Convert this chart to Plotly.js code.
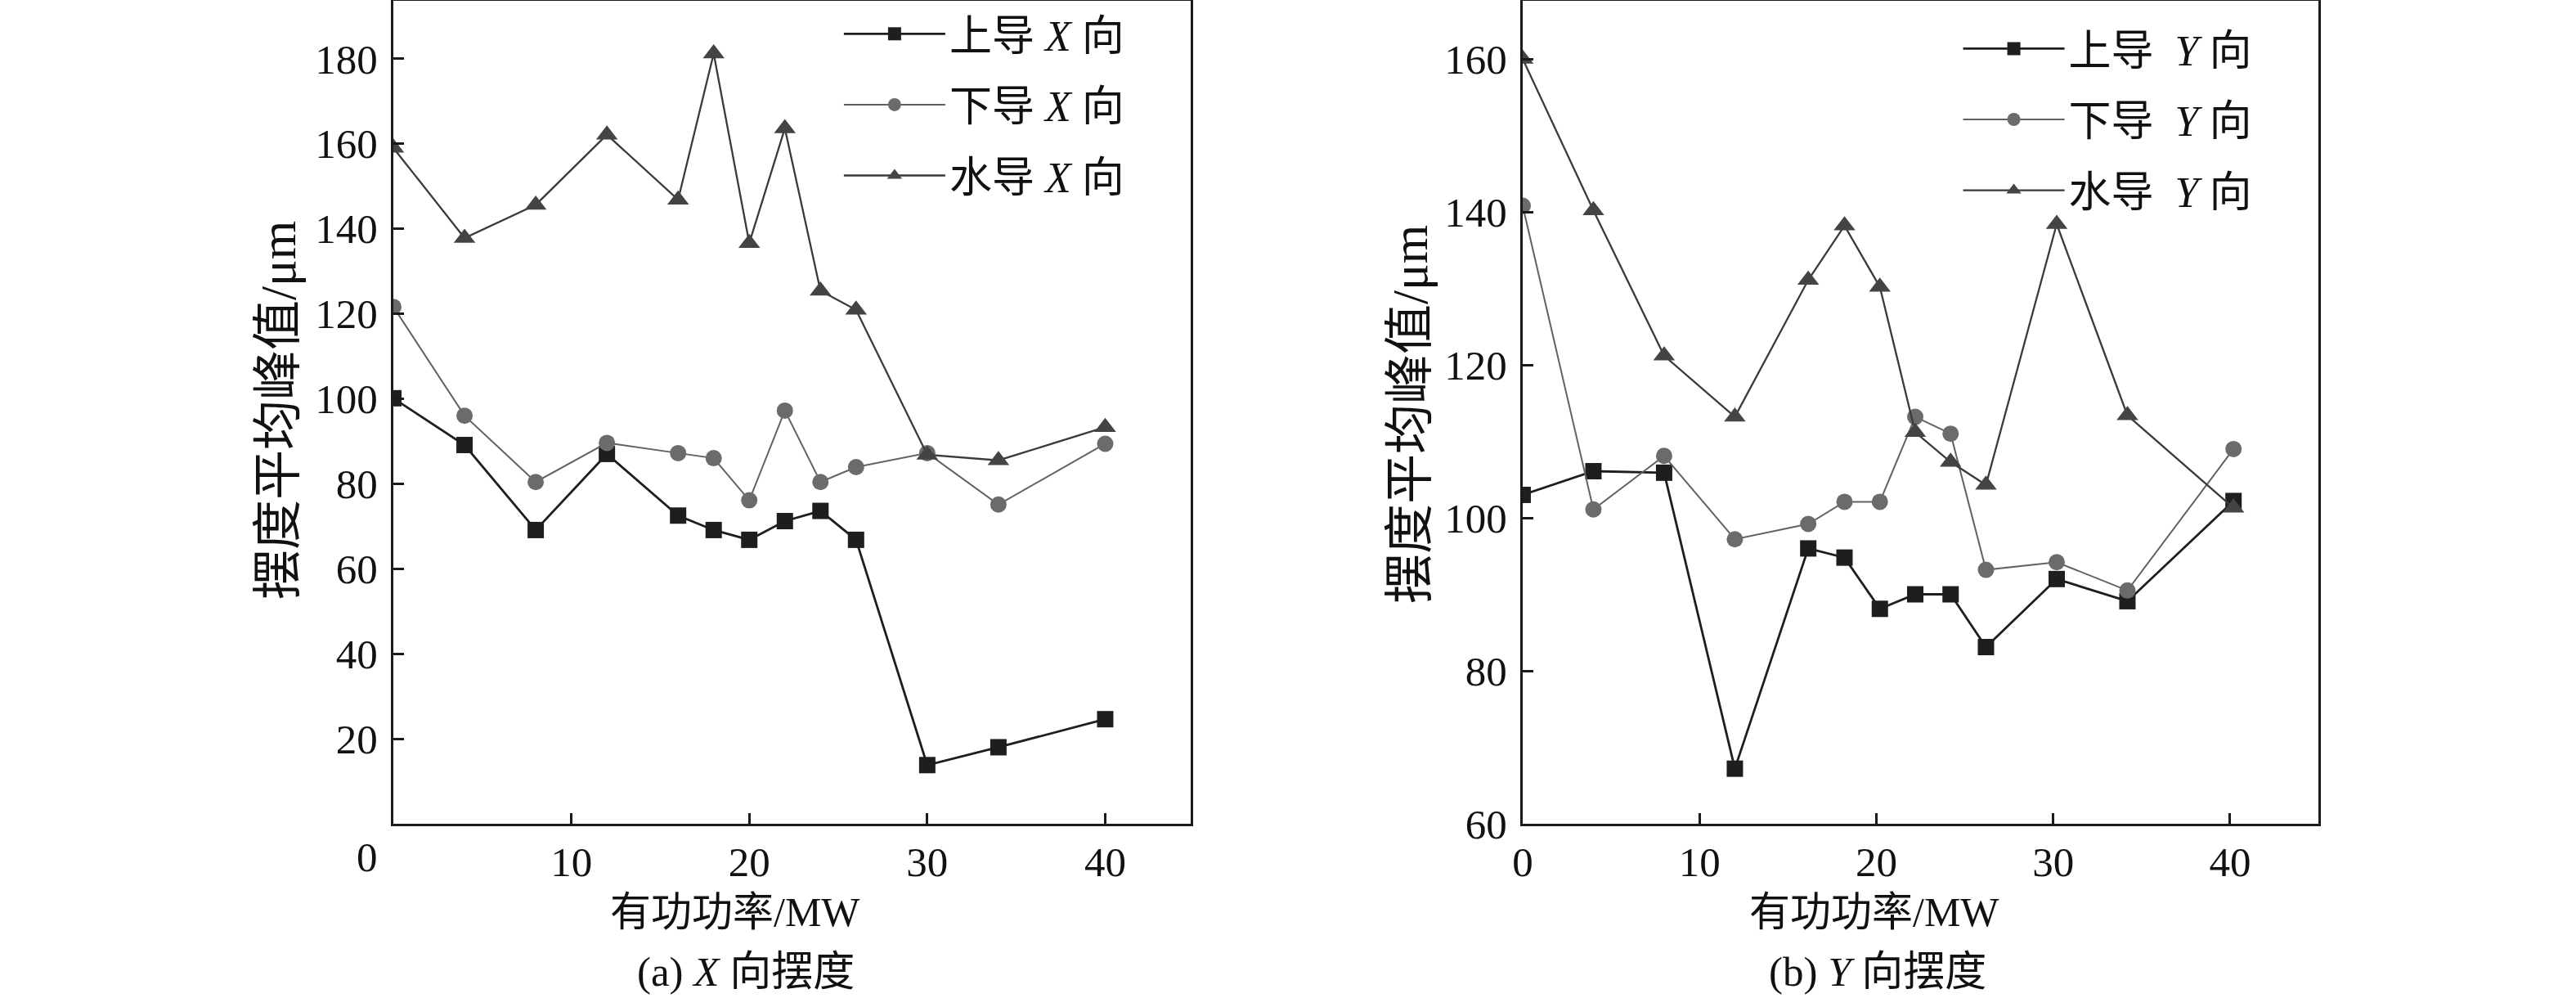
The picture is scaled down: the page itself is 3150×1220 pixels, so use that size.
<!DOCTYPE html>
<html>
<head>
<meta charset="utf-8">
<script src="https://cdn.plot.ly/plotly-3.0.1.min.js"></script>
<style>
  html, body { margin: 0; padding: 0; background: #fff; }
  #plot { width: 3150px; height: 1220px; }
</style>
</head>
<body>
<div id="plot"></div>
<script>
// active power (MW)
var powerX = [0, 4, 8, 12, 16, 18, 20, 22, 24, 26, 30, 34, 40];
var powerY = [0, 4, 8, 12, 16.15, 18.2, 20.2, 22.2, 24.2, 26.2, 30.2, 34.2, 40.2];

// (a) X direction swing, um
var upperX = [100.1, 89.1, 69.1, 87.0, 72.5, 69.1, 66.8, 71.2, 73.6, 66.8, 13.8, 18.0, 24.6];
var lowerX = [121.6, 96.0, 80.4, 89.6, 87.2, 86.0, 76.1, 97.2, 80.4, 83.9, 87.2, 75.1, 89.4];
var waterX = [159.0, 137.8, 145.6, 162.1, 146.8, 181.2, 136.6, 163.6, 125.4, 120.9, 86.8, 85.5, 93.3];

// (b) Y direction swing, um
var upperY = [103.0, 106.1, 105.9, 67.2, 96.0, 94.8, 88.1, 90.0, 90.0, 83.1, 92.0, 89.1, 102.2];
var lowerY = [140.8, 101.1, 108.1, 97.2, 99.2, 102.1, 102.1, 113.2, 111.0, 93.2, 94.2, 90.5, 109.0];
var waterY = [160.0, 140.2, 121.2, 113.2, 131.1, 138.2, 130.2, 111.2, 107.3, 104.3, 138.4, 113.4, 101.3];

var namesX = ['上导 <i>X</i> 向', '下导 <i>X</i> 向', '水导 <i>X</i> 向'];
var namesY = ['上导  <i>Y</i> 向', '下导  <i>Y</i> 向', '水导  <i>Y</i> 向'];

var FONT = 'Liberation Serif, Noto Sans CJK SC, serif';

// one style per guide bearing
var styles = [
  {symbol: 'square', size: 20, color: '#1e1e1e', line: '#1e1e1e', width: 2.8},
  {symbol: 'circle', size: 20, color: '#6b6b6b', line: '#626262', width: 2},
  {symbol: 'triangle-up', size: 23, color: '#444444', line: '#3a3a3a', width: 2.3}
];

function makeTrace(x, y, name, s, xa, ya, leg, grp) {
  return {
    x: x, y: y, name: name,
    type: 'scatter', mode: 'lines+markers',
    xaxis: xa, yaxis: ya,
    legend: leg, legendgroup: grp,
    line: {color: s.line, width: s.width},
    marker: {symbol: s.symbol, size: s.size, color: s.color}
  };
}

var data = [
  makeTrace(powerX, upperX, namesX[0], styles[0], 'x', 'y', 'legend', 'a1'),
  makeTrace(powerX, lowerX, namesX[1], styles[1], 'x', 'y', 'legend', 'a2'),
  makeTrace(powerX, waterX, namesX[2], styles[2], 'x', 'y', 'legend', 'a3'),
  makeTrace(powerY, upperY, namesY[0], styles[0], 'x2', 'y2', 'legend2', 'b1'),
  makeTrace(powerY, lowerY, namesY[1], styles[1], 'x2', 'y2', 'legend2', 'b2'),
  makeTrace(powerY, waterY, namesY[2], styles[2], 'x2', 'y2', 'legend2', 'b3')
];

// shared axis look
function axis(extra) {
  var a = {
    showline: true, linecolor: '#1a1a1a', linewidth: 3, mirror: true,
    ticks: 'inside', ticklen: 13, tickwidth: 3, tickcolor: '#1a1a1a',
    showgrid: false, zeroline: false,
    tickfont: {family: FONT, size: 51, color: '#111'}
  };
  for (var k in extra) a[k] = extra[k];
  return a;
}

var legendBase = {
  font: {family: FONT, size: 52, color: '#111'},
  bgcolor: 'rgba(0,0,0,0)', borderwidth: 0,
  xanchor: 'left', yanchor: 'top',
  traceorder: 'grouped', tracegroupgap: 16, itemwidth: 124
};

var layout = {
  width: 3150, height: 1220,
  margin: {l: 0, r: 0, t: 1, b: 213},
  paper_bgcolor: '#fff', plot_bgcolor: '#fff',
  showlegend: true,
  xaxis: axis({domain: [0.1527, 0.4622], range: [0, 44.8], tickvals: [10, 20, 30, 40], anchor: 'y'}),
  yaxis: axis({domain: [0, 1], range: [0, 193.6], tickvals: [20, 40, 60, 80, 100, 120, 140, 160, 180], anchor: 'x', ticklabelstandoff: 6}),
  xaxis2: axis({domain: [0.5911, 0.9000], range: [0, 45.0], tickvals: [0, 10, 20, 30, 40], anchor: 'y2'}),
  yaxis2: axis({domain: [0, 1], range: [60, 167.6], tickvals: [60, 80, 100, 120, 140, 160], anchor: 'x2', ticklabelstandoff: 6}),
  legend: Object.assign({}, legendBase, {x: 0.326, y: 1.0}),
  legend2: Object.assign({}, legendBase, {x: 0.7605, y: 0.982}),
  annotations: [
    // left plot: the 0 label sits left of the axis corner
    {text: '0', xref: 'paper', yref: 'paper', x: 0.1425, y: -0.0408, showarrow: false,
     xanchor: 'center', yanchor: 'middle', font: {family: FONT, size: 51, color: '#111'}},
    {text: '有功功率/MW', xref: 'paper', yref: 'paper', x: 0.2854, y: -0.1074, showarrow: false,
     xanchor: 'center', yanchor: 'middle', font: {family: FONT, size: 50, color: '#111'}},
    {text: '(a) <i>X</i> 向摆度', xref: 'paper', yref: 'paper', x: 0.2896, y: -0.18, showarrow: false,
     xanchor: 'center', yanchor: 'middle', font: {family: FONT, size: 51, color: '#111'}},
    {text: '摆度平均峰值/μm', xref: 'paper', yref: 'paper', x: 341 / 3150, y: 0.502, showarrow: false,
     textangle: -90, xanchor: 'center', yanchor: 'middle', font: {family: FONT, size: 61, color: '#111'}},
    {text: '有功功率/MW', xref: 'paper', yref: 'paper', x: 0.7276, y: -0.1074, showarrow: false,
     xanchor: 'center', yanchor: 'middle', font: {family: FONT, size: 50, color: '#111'}},
    {text: '(b) <i>Y</i> 向摆度', xref: 'paper', yref: 'paper', x: 0.7289, y: -0.18, showarrow: false,
     xanchor: 'center', yanchor: 'middle', font: {family: FONT, size: 51, color: '#111'}},
    {text: '摆度平均峰值/μm', xref: 'paper', yref: 'paper', x: 1724 / 3150, y: 0.497, showarrow: false,
     textangle: -90, xanchor: 'center', yanchor: 'middle', font: {family: FONT, size: 61, color: '#111'}}
  ]
};

Plotly.newPlot('plot', data, layout, {staticPlot: true});
</script>
</body>
</html>
